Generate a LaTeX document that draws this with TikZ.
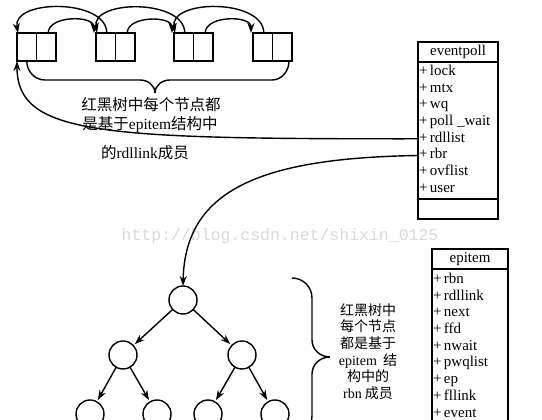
\documentclass[tikz,border=0pt]{standalone}
\usepackage{fontspec}
\setmainfont{Liberation Serif}
\setmonofont{Liberation Mono}
\newfontfamily\cjk{Noto Sans CJK SC}
\usetikzlibrary{arrows.meta,positioning}
\newcommand\lat[1]{{\rmfamily #1}}
\begin{document}
\begin{tikzpicture}[x=1pt,y=1pt,inner sep=0pt,outer sep=0pt,line width=1.4pt,
>={Stealth[length=10pt,width=7pt]},
cell/.style={draw,rectangle,minimum width=19.5pt,minimum height=28pt},
leaf/.style={draw,circle,minimum size=28pt},
hdr/.style={draw,rectangle,minimum height=20pt,font=\fontsize{15}{16}\selectfont},
field/.style={anchor=west,text height=10pt,text depth=3pt,font=\fontsize{15}{16}\selectfont},
note/.style={font=\fontsize{15.5}{18}\selectfont\cjk}]

\useasboundingbox (0,0) rectangle (542,420);

% watermark
\node[text=black!15,font=\ttfamily\fontsize{16.5}{18}\selectfont] (wm) at (280,184) {http://blog.csdn.net/shixin\_0125};

% list of rdllink cells
\foreach \i/\x in {1/17,2/96,3/174,4/253} {
  \node[cell] (L\i) at (\x+9.75,373) {};
  \node[cell,right=0pt of L\i] (R\i) {};
}
\foreach \i/\j in {1/2,2/3,3/4} {
  \draw[->] ([xshift=2pt]R\i.north) to[out=90,in=90] ([xshift=-2pt]L\j.north west);
  \draw[->] ([xshift=1pt]L\j.north) to[out=90,in=100] ([xshift=1pt]L\i.north west);
}

% brace under the list
\coordinate (btip) at (155,327);
\draw (L1.south) to[out=-90,in=180] (45,340) -- (140,340) to[out=0,in=90] (btip);
\draw (btip) to[out=90,in=180] (170,340) -- (272,340) to[out=0,in=-90] ([xshift=-3pt]R4.south east);
\node[note] (t1) at (151,315) {红黑树中每个节点都};
\node[note] (t2) at (150,295) {是基于\lat{epitem}结构中};
\node[note] (t3) at (145,267) {的\lat{rdllink}成员};

% eventpoll
\node[hdr,minimum width=80pt,anchor=north west] (evhead) at (418,378) {eventpoll};
\node[draw,minimum width=80pt,minimum height=137pt,anchor=north] (evbody) at (evhead.south) {};
\node[draw,minimum width=80pt,minimum height=20pt,anchor=north] (evfoot) at (evbody.south) {};
\foreach \f [count=\k] in {lock,mtx,wq,poll \_wait,rdllist,rbr,ovflist,user}
  \node[field] (ev\k) at (419,364.7-16.7*\k) {+\,\f};

% epitem
\node[hdr,minimum width=76pt,anchor=north west] (eihead) at (432,171) {epitem};
\node[draw,minimum width=76pt,minimum height=200pt,anchor=north] (eibody) at (eihead.south) {};
\foreach \f [count=\k] in {rbn,rdllink,next,ffd,nwait,pwqlist,ep,fllink,event}
  \node[field] (ei\k) at (433,156.7-16.7*\k) {+\,\f};

% red-black tree
\node[leaf] (n1) at (183,120) {};
\node[leaf] (n2) at (123,65) {};
\node[leaf] (n3) at (242,65) {};
\node[leaf] (n4) at (90,6) {};
\node[leaf] (n5) at (157,6) {};
\node[leaf] (n6) at (208,6) {};
\node[leaf] (n7) at (275,6) {};
\foreach \a/\b in {1/2,1/3,2/4,2/5,3/6,3/7}
  \draw[->,shorten >=2pt] (n\a) -- (n\b);

% brace right of the tree
\coordinate (rtip) at (330,63);
\draw (292,142) to[out=0,in=90] (312,122) -- (312,80) to[out=-90,in=180] (rtip);
\draw (rtip) to[out=180,in=90] (312,46) -- (312,4) to[out=-90,in=0] (292,-16);
\node[align=center,font=\fontsize{14}{16.6}\selectfont\cjk] (rbtxt) at (368,68.5)
  {红黑树中\\每个节点\\都是基于\\\lat{epitem}\ \ 结\\构中的\\\lat{rbn} 成员};

% links
\draw[->] (evbody.west |- ev5) .. controls (100,281) and (17,285) .. (L1.south west);
\draw[->] (evbody.west |- ev6) .. controls (260,262) and (185,230) .. (n1.north);
\end{tikzpicture}
\end{document}
